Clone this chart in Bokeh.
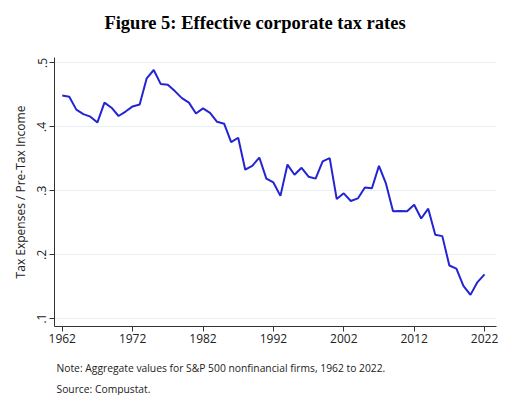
from bokeh.plotting import figure
from bokeh.layouts import column
from bokeh.models import FixedTicker, CustomJSTickFormatter, Range1d
from bokeh.core.properties import value
from bokeh.embed import file_html
from bokeh.resources import INLINE

years = list(range(1962, 2023))
rates = [0.449, 0.447, 0.427, 0.420, 0.416, 0.407, 0.438, 0.430, 0.417, 0.424,
         0.432, 0.435, 0.476, 0.489, 0.467, 0.466, 0.456, 0.445, 0.438, 0.421,
         0.429, 0.422, 0.408, 0.405, 0.376, 0.383, 0.333, 0.339, 0.352, 0.319,
         0.313, 0.292, 0.341, 0.325, 0.336, 0.322, 0.319, 0.346, 0.351, 0.287,
         0.296, 0.284, 0.288, 0.305, 0.304, 0.339, 0.311, 0.268, 0.2685, 0.268,
         0.278, 0.2565, 0.272, 0.231, 0.229, 0.183, 0.178, 0.151, 0.137, 0.157,
         0.169]
x_ticks = [1962, 1972, 1982, 1992, 2002, 2012, 2022]
y_ticks = [0.1, 0.2, 0.3, 0.4, 0.5]

title_text = "Figure 5: Effective corporate tax rates"
y_label = "Tax Expenses / Pre-Tax Income"
note_lines = ["Note: Aggregate values for S&P 500 nonfinancial firms, 1962 to 2022.",
              "Source: Compustat."]

FONT = "Open Sans"
W = 522
LEFT, RIGHT = 54, 26
TOP_H = 57
MAIN_H = 299
BOT_H = 39


def blank(height):
    # frame shares the main chart's horizontal geometry; x is in page pixels
    f = figure(width=W, height=height, output_backend="svg", toolbar_location=None,
               x_range=Range1d(LEFT, W - RIGHT), y_range=Range1d(height, 0),
               x_axis_type=None, y_axis_type=None,
               min_border_left=LEFT, min_border_right=RIGHT,
               min_border_top=0, min_border_bottom=0)
    f.grid.visible = False
    f.outline_line_color = None
    return f


# title panel
top = blank(TOP_H)
top.text(x=[254.5], y=[22], text=[title_text], text_font=value("Liberation Serif"),
         text_font_style="bold", text_font_size="18.5px", text_align="center",
         text_baseline="middle", text_color="black")

# main chart
p = figure(width=W, height=MAIN_H, output_backend="svg", toolbar_location=None,
           x_range=Range1d(1960.9, 2023.7), y_range=Range1d(0.0875, 0.5086),
           min_border_left=LEFT, min_border_right=RIGHT, min_border_top=0, min_border_bottom=30)
p.outline_line_color = None
p.background_fill_color = "white"
p.line(years, rates, line_color="#2424d4", line_width=2)

p.xaxis.ticker = FixedTicker(ticks=x_ticks)
p.yaxis.ticker = FixedTicker(ticks=y_ticks)
p.yaxis.formatter = CustomJSTickFormatter(code="return tick.toFixed(1).replace(/^0/, '');")
p.yaxis.major_label_orientation = "vertical"
p.yaxis.axis_label = y_label
for ax in (p.xaxis, p.yaxis):
    ax.minor_tick_line_color = None
    ax.major_tick_in = 0
    ax.major_tick_out = 5
    ax.axis_line_color = "#333333"
    ax.major_tick_line_color = "#333333"
    ax.major_label_text_font = FONT
    ax.major_label_text_font_size = "12px"
    ax.major_label_text_color = "#222222"
    ax.axis_label_text_font = FONT
    ax.axis_label_text_font_size = "12px"
    ax.axis_label_text_font_style = "normal"
    ax.axis_label_text_color = "#222222"
p.xaxis.major_label_standoff = 2
p.yaxis.major_label_standoff = 3
p.yaxis.axis_label_standoff = 6
p.xgrid.grid_line_color = None
p.ygrid.grid_line_color = "#e6eff1"
p.ygrid.grid_line_width = 1.2

# notes panel
bot = blank(BOT_H)
bot.text(x=[56, 56], y=[11, 32], text=note_lines, text_font=value(FONT),
         text_font_size="10.3px", text_align="left", text_baseline="middle",
         text_color="#222222")

layout = column(top, p, bot, spacing=0)
open("out.html", "w").write(file_html(layout, INLINE))
